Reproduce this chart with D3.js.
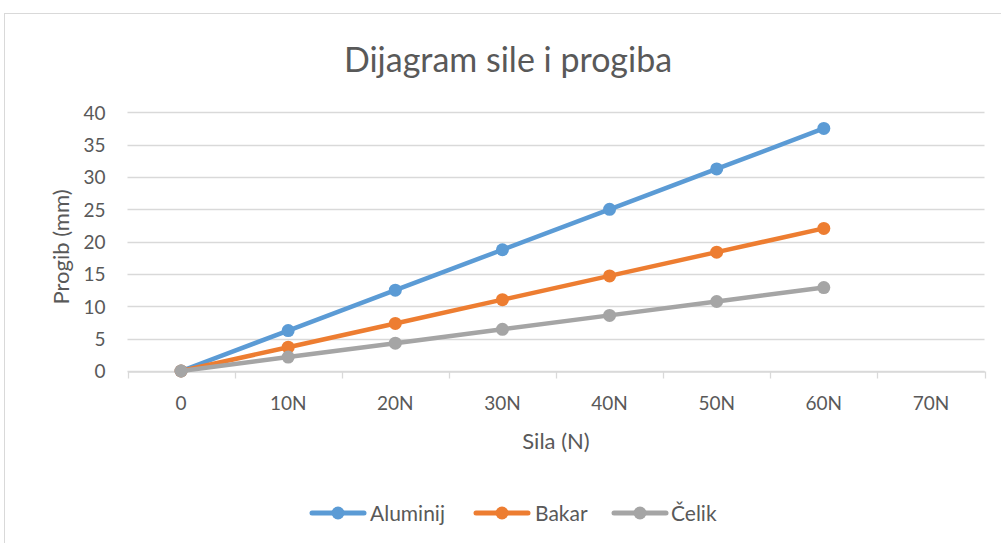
<!DOCTYPE html>
<html>
<head>
<meta charset="utf-8">
<script src="https://cdn.jsdelivr.net/npm/d3@7"></script>
<style>
  html, body { margin: 0; padding: 0; background: #fff; }
  svg text { font-family: Lato, "Open Sans", sans-serif; fill: #595959; }
</style>
</head>
<body>
<svg id="chart" width="1001" height="543"></svg>
<script>
// Force categories on the x axis
const categories = ["0", "10N", "20N", "30N", "40N", "50N", "60N", "70N"];
// Deflection (mm) per material for each force step
const aluminij = [0, 6.25, 12.5, 18.75, 25, 31.25, 37.5];
const bakar = [0, 3.68, 7.35, 11.03, 14.7, 18.38, 22.05];
const celik = [0, 2.15, 4.3, 6.45, 8.6, 10.75, 12.9];
const seriesNames = ["Aluminij", "Bakar", "Čelik"];
const seriesColors = ["#5B9BD5", "#ED7D31", "#A5A5A5"];
const yTicks = [0, 5, 10, 15, 20, 25, 30, 35, 40];

const series = [aluminij, bakar, celik].map((vals, i) => ({
  name: seriesNames[i], color: seriesColors[i], values: vals
}));

const svg = d3.select("#chart");

// Chart frame
svg.append("rect")
  .attr("x", 4.5).attr("y", 13.5)
  .attr("width", 1010).attr("height", 560)
  .attr("fill", "#fff").attr("stroke", "#D9D9D9").attr("stroke-width", 1);

const plot = { left: 127.5, right: 984.5, top: 112.3, bottom: 371 };

const x = d3.scaleBand().domain(categories).range([plot.left, plot.right]);
const y = d3.scaleLinear().domain([0, 40]).range([plot.bottom, plot.top]);

// Horizontal gridlines
svg.append("g").selectAll("line").data(yTicks).join("line")
  .attr("x1", plot.left).attr("x2", plot.right)
  .attr("y1", d => Math.round(y(d)) + 0.5).attr("y2", d => Math.round(y(d)) + 0.5)
  .attr("stroke", "#D9D9D9").attr("stroke-width", 1.3);

// Y axis labels
const yAxis = d3.axisLeft(y).tickValues(yTicks).tickSize(0).tickPadding(0);
const gy = svg.append("g").attr("transform", `translate(${plot.left - 22},0)`).call(yAxis);
gy.select(".domain").remove();
gy.selectAll("text").style("font-size", "19px").attr("dy", "0.36em").attr("fill", "#595959");

// X axis with tick marks at band boundaries
const gx = svg.append("g").attr("transform", `translate(0,${Math.round(plot.bottom) + 0.5})`)
  .call(d3.axisBottom(x).tickSize(0).tickPadding(25));
gx.select(".domain").attr("stroke", "#D9D9D9").attr("stroke-width", 1.3);
gx.selectAll("text").style("font-size", "19px").attr("fill", "#595959");
const bounds = categories.map(c => x(c)).concat([x(categories[categories.length - 1]) + x.bandwidth()]);
gx.append("g").selectAll("line").data(bounds).join("line")
  .attr("x1", d => Math.round(d) + 0.5).attr("x2", d => Math.round(d) + 0.5)
  .attr("y1", 0).attr("y2", 7)
  .attr("stroke", "#D9D9D9").attr("stroke-width", 1.3);

// Series lines and markers
const line = d3.line()
  .x((d, i) => x(categories[i]) + x.bandwidth() / 2)
  .y(d => y(d));

const gs = svg.append("g").selectAll("g").data(series).join("g");
gs.append("path")
  .attr("d", d => line(d.values))
  .attr("fill", "none").attr("stroke", d => d.color)
  .attr("stroke-width", 4.5).attr("stroke-linejoin", "round").attr("stroke-linecap", "round");
gs.selectAll("circle").data(d => d.values.map((v, i) => ({ v, i, color: d.color }))).join("circle")
  .attr("cx", d => x(categories[d.i]) + x.bandwidth() / 2)
  .attr("cy", d => y(d.v))
  .attr("r", 6.5)
  .attr("fill", d => d.color);

// Title and axis titles
svg.append("text").attr("x", 508).attr("y", 72).attr("text-anchor", "middle")
  .style("font-size", "34px").text("Dijagram sile i progiba");
svg.append("text").attr("x", 556).attr("y", 449).attr("text-anchor", "middle")
  .style("font-size", "22px").text("Sila (N)");
svg.append("text").attr("transform", "translate(69,247) rotate(-90)").attr("text-anchor", "middle")
  .style("font-size", "22px").text("Progib (mm)");

// Legend
const legendItems = [
  { x: 310, tx: 370 },
  { x: 474, tx: 535 },
  { x: 612, tx: 671 }
];
const lg = svg.append("g").selectAll("g").data(series).join("g")
  .attr("transform", (d, i) => `translate(${legendItems[i].x},513)`);
lg.append("line").attr("x1", 2).attr("x2", 54).attr("y1", 0).attr("y2", 0)
  .attr("stroke", d => d.color).attr("stroke-width", 5).attr("stroke-linecap", "round");
lg.append("circle").attr("cx", 28).attr("cy", 0).attr("r", 6.5).attr("fill", d => d.color);
lg.append("text").attr("x", (d, i) => legendItems[i].tx - legendItems[i].x).attr("y", 0)
  .attr("dy", "0.36em").style("font-size", "21px").text(d => d.name);
</script>
</body>
</html>
